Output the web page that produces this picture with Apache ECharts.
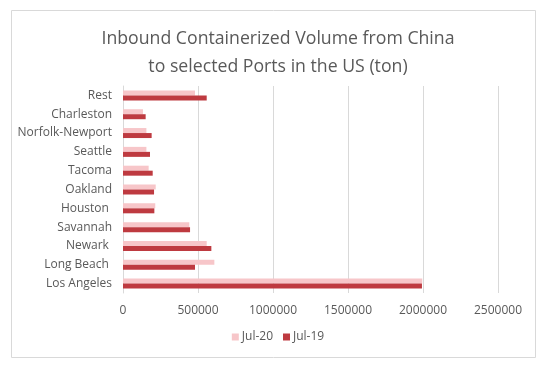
<!DOCTYPE html>
<html>
<head>
<meta charset="utf-8">
<script src="https://cdn.jsdelivr.net/npm/echarts@6/dist/echarts.min.js"></script>
<style>html,body{margin:0;padding:0;background:#fff;}#c{width:556px;height:372px;}</style>
</head>
<body>
<div id="c"></div>
<script>
var categories = ['Los Angeles', 'Long Beach ', 'Newark ', 'Savannah', 'Houston ', 'Oakland', 'Tacoma', 'Seattle', 'Norfolk-Newport', 'Charleston', 'Rest'];
var jul20 = [1995000, 609000, 558000, 442000, 215000, 218000, 171000, 156000, 156000, 133000, 480000];
var jul19 = [1993000, 480000, 589000, 447000, 209000, 207000, 198000, 180000, 191000, 151000, 558000];
var xTicks = [0, 500000, 1000000, 1500000, 2000000, 2500000];

var chart = echarts.init(document.getElementById('c'));
var font = '"Open Sans", sans-serif';
chart.setOption({
  animation: false,
  title: {
    text: 'Inbound Containerized Volume from China\nto selected Ports in the US (ton)',
    left: 'center', top: 20,
    textStyle: { fontFamily: font, fontSize: 17.7, fontWeight: 'normal', color: '#595959', lineHeight: 28 }
  },
  graphic: [{
    type: 'rect', shape: { x: 11.5, y: 10.5, width: 524, height: 347 },
    style: { fill: 'none', stroke: '#D9D9D9', lineWidth: 1 }, z: -1
  }],
  legend: {
    data: ['Jul-20', 'Jul-19'], top: 331, left: 'center', padding: 0,
    itemWidth: 7, itemHeight: 7, itemGap: 10,
    icon: 'rect',
    textStyle: { fontFamily: font, fontSize: 12, color: '#595959', padding: [0, 0, 0, -2] }
  },
  grid: { left: 123, right: 58, top: 86, bottom: 79, containLabel: false },
  xAxis: {
    type: 'value', min: xTicks[0], max: xTicks[xTicks.length - 1], interval: 500000,
    axisLine: { show: false }, axisTick: { show: false },
    splitLine: { show: true, lineStyle: { color: '#D9D9D9', width: 1 } },
    axisLabel: { fontFamily: font, fontSize: 12, color: '#595959', margin: 12, formatter: function (v) { return String(v); } }
  },
  yAxis: {
    type: 'category', data: categories,
    axisLine: { show: true, lineStyle: { color: '#D9D9D9' } }, axisTick: { show: false },
    axisLabel: { fontFamily: font, fontSize: 12, color: '#595959', margin: 11 }
  },
  series: [
    { name: 'Jul-20', type: 'bar', data: jul20, barWidth: 5, barGap: '0%', itemStyle: { color: '#F7C6C9' } },
    { name: 'Jul-19', type: 'bar', data: jul19, barWidth: 5, barGap: '0%', itemStyle: { color: '#BE3A40' } }
  ]
});
</script>
</body>
</html>
